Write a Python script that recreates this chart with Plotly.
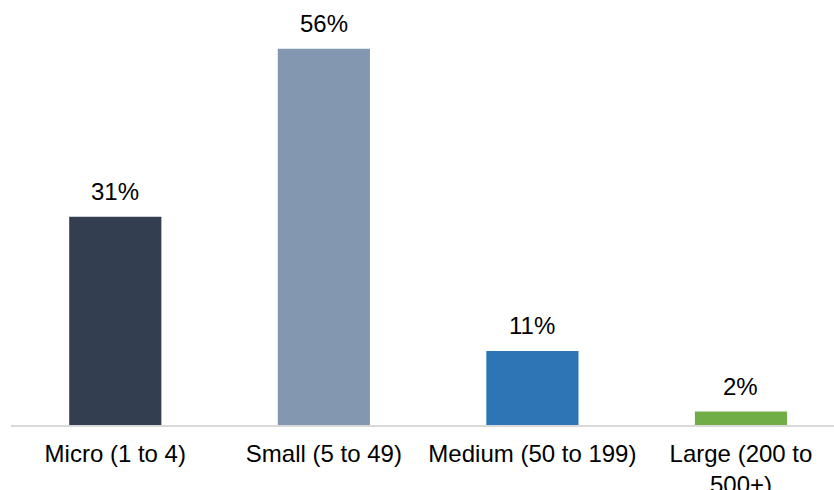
import plotly.graph_objects as go

categories = ["Micro (1 to 4)", "Small (5 to 49)", "Medium (50 to 199)", "Large (200 to<br>500+)"]
values = [31, 56, 11, 2]
labels = ["31%", "56%", "11%", "2%"]
colors = ["#333F50", "#8497B0", "#2E75B6", "#70AD47"]

FONT = "Liberation Sans, Arial, sans-serif"

fig = go.Figure(
    go.Bar(
        x=categories,
        y=values,
        marker=dict(color=colors, line=dict(width=0)),
        hoverinfo="skip",
    )
)

for c, v, t in zip(categories, values, labels):
    fig.add_annotation(
        x=c, y=v, text=t, showarrow=False, yanchor="bottom", yshift=10,
        font=dict(family=FONT, size=24, color="#000000"),
    )

fig.update_layout(
    width=834,
    height=490,
    margin=dict(l=11, r=0, t=10, b=65, autoexpand=False),
    paper_bgcolor="white",
    plot_bgcolor="white",
    bargap=0.558,
    showlegend=False,
    font=dict(family=FONT, size=24, color="#000000"),
)
fig.update_xaxes(
    range=[-0.5, 3.446],
    automargin=False,
    showline=True, linecolor="#D9D9D9", linewidth=2,
    showgrid=False, zeroline=False,
    ticks="outside", ticklen=6, tickcolor="rgba(0,0,0,0)",
    tickfont=dict(family=FONT, size=24, color="#000000"),
    fixedrange=True,
)
fig.update_yaxes(
    range=[0, 415 / 6.72],
    visible=False, showgrid=False, zeroline=False, fixedrange=True,
)

fig.write_html("out.html", config={"displayModeBar": False})
